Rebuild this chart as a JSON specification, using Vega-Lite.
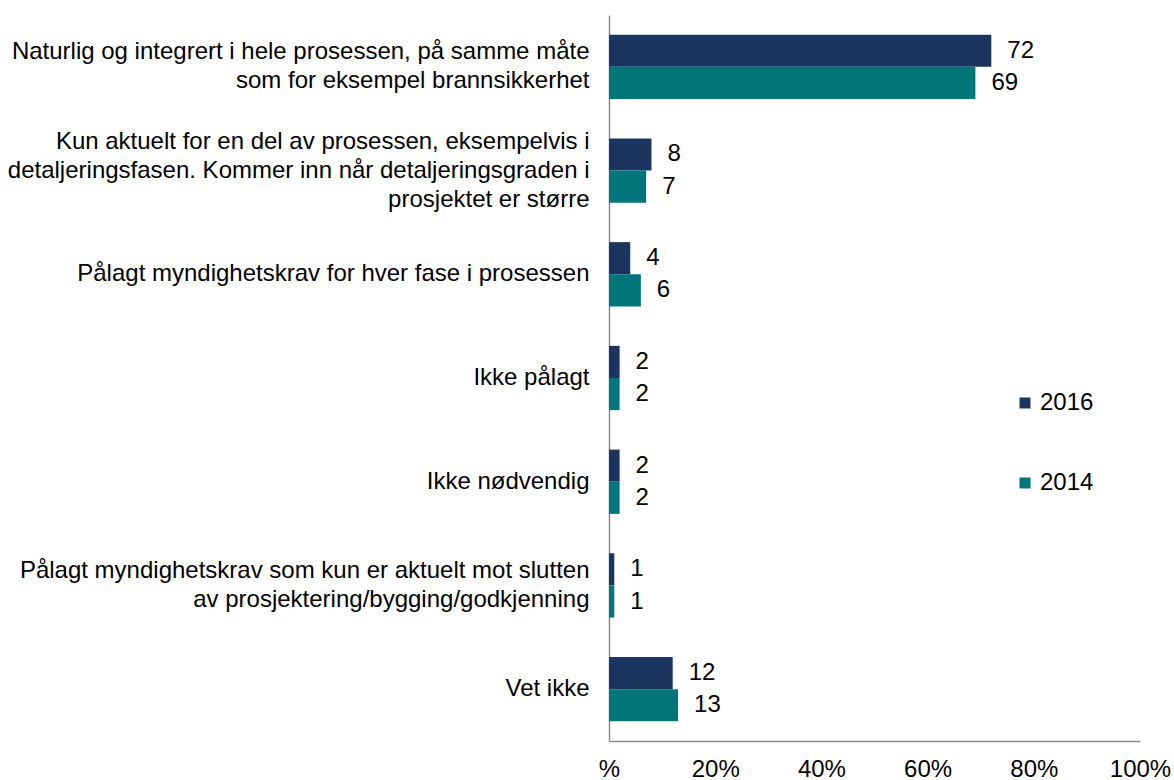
{
  "$schema": "https://vega.github.io/schema/vega-lite/v6.json",
  "autosize": {"type": "none"},
  "padding": {"left": 609, "top": 15, "right": 34, "bottom": 39},
  "width": 531,
  "height": 726,
  "background": "white",
  "config": {
    "view": {"stroke": null},
    "font": "Liberation Sans",
    "text": {"font": "Liberation Sans"}
  },
  "data": {
    "values": [
      {"category": "Naturlig og integrert i hele prosessen, på samme måte|som for eksempel brannsikkerhet", "year": "2016", "value": 72},
      {"category": "Naturlig og integrert i hele prosessen, på samme måte|som for eksempel brannsikkerhet", "year": "2014", "value": 69},
      {"category": "Kun aktuelt for en del av prosessen, eksempelvis i|detaljeringsfasen. Kommer inn når detaljeringsgraden i|prosjektet er større", "year": "2016", "value": 8},
      {"category": "Kun aktuelt for en del av prosessen, eksempelvis i|detaljeringsfasen. Kommer inn når detaljeringsgraden i|prosjektet er større", "year": "2014", "value": 7},
      {"category": "Pålagt myndighetskrav for hver fase i prosessen", "year": "2016", "value": 4},
      {"category": "Pålagt myndighetskrav for hver fase i prosessen", "year": "2014", "value": 6},
      {"category": "Ikke pålagt", "year": "2016", "value": 2},
      {"category": "Ikke pålagt", "year": "2014", "value": 2},
      {"category": "Ikke nødvendig", "year": "2016", "value": 2},
      {"category": "Ikke nødvendig", "year": "2014", "value": 2},
      {"category": "Pålagt myndighetskrav som kun er aktuelt mot slutten|av prosjektering/bygging/godkjenning", "year": "2016", "value": 1},
      {"category": "Pålagt myndighetskrav som kun er aktuelt mot slutten|av prosjektering/bygging/godkjenning", "year": "2014", "value": 1},
      {"category": "Vet ikke", "year": "2016", "value": 12},
      {"category": "Vet ikke", "year": "2014", "value": 13}
    ]
  },
  "encoding": {
    "y": {
      "field": "category",
      "type": "nominal",
      "sort": null,
      "scale": {"paddingInner": 0.38, "paddingOuter": 0.19},
      "axis": {
        "title": null,
        "labelExpr": "split(datum.label, '|')",
        "labelFontSize": 24,
        "labelFont": "Liberation Sans",
        "labelColor": "#000000",
        "labelLineHeight": 29,
        "labelLimit": 0,
        "labelPadding": 20,
        "labelAlign": "right",
        "labelBaseline": "middle",
        "labelOffset": {
          "condition": [
            {"test": "length(split(datum.value, '|')) == 3", "value": -29},
            {"test": "length(split(datum.value, '|')) == 2", "value": -14.5}
          ],
          "value": 0
        },
        "ticks": false,
        "domainColor": "#8c8c8c",
        "domainWidth": 1.5
      }
    },
    "yOffset": {"field": "year", "type": "nominal", "sort": ["2016", "2014"]},
    "x": {
      "field": "value",
      "type": "quantitative",
      "scale": {"domain": [0, 100], "nice": false},
      "axis": {
        "title": null,
        "values": [0, 20, 40, 60, 80, 100],
        "labelExpr": "datum.value == 0 ? '%' : datum.value + '%'",
        "labelFontSize": 24,
        "labelFont": "Liberation Sans",
        "labelColor": "#000000",
        "labelPadding": 16,
        "labelFlush": false,
        "ticks": false,
        "grid": false,
        "domainColor": "#8c8c8c",
        "domainWidth": 1.5
      }
    }
  },
  "layer": [
    {
      "mark": {"type": "bar"},
      "encoding": {
        "color": {
          "field": "year",
          "type": "nominal",
          "scale": {"domain": ["2016", "2014"], "range": ["#1c355e", "#00767b"]},
          "legend": {
            "orient": "none",
            "legendX": 404,
            "legendY": 376,
            "title": null,
            "symbolType": "square",
            "symbolSize": 121,
            "symbolStrokeWidth": 0,
            "labelFontSize": 24,
            "labelFont": "Liberation Sans",
            "labelColor": "#000000",
            "labelOffset": 3,
            "rowPadding": 56
          }
        }
      }
    },
    {
      "mark": {"type": "text", "align": "left", "baseline": "middle", "dx": 16, "fontSize": 24, "font": "Liberation Sans", "color": "#000000"},
      "encoding": {
        "text": {"field": "value", "type": "quantitative"}
      }
    }
  ]
}
